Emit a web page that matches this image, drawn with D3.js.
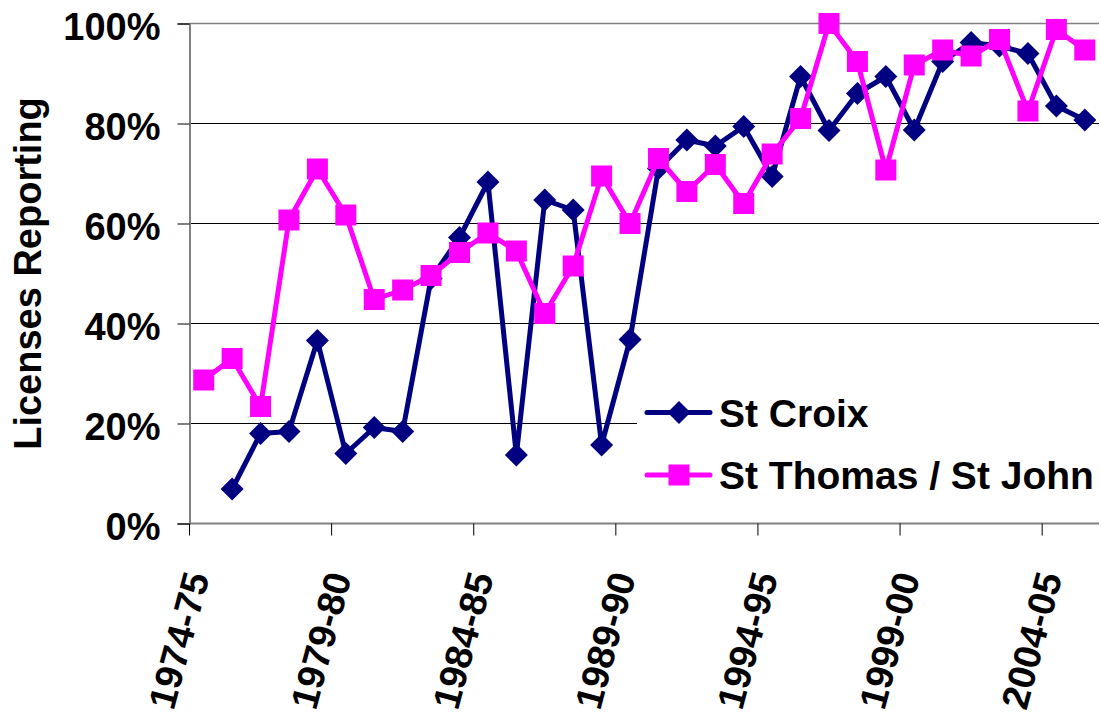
<!DOCTYPE html>
<html>
<head>
<meta charset="utf-8">
<script src="https://cdn.jsdelivr.net/npm/d3@7"></script>
<style>
  html, body { margin: 0; padding: 0; background: #fff; }
  svg { display: block; }
  text { font-family: "Liberation Sans", Arial, sans-serif; font-weight: bold; fill: #000; }
</style>
</head>
<body>
<svg id="chart" width="1101" height="715"></svg>
<script>
// ---- data ----
const categories = ["1974-75","1975-76","1976-77","1977-78","1978-79","1979-80","1980-81","1981-82",
  "1982-83","1983-84","1984-85","1985-86","1986-87","1987-88","1988-89","1989-90","1990-91","1991-92",
  "1992-93","1993-94","1994-95","1995-96","1996-97","1997-98","1998-99","1999-00","2000-01","2001-02",
  "2002-03","2003-04","2004-05","2005-06"];
const stCroix = [null, 6.9, 18.0, 18.4, 36.6, 14.0, 19.2, 18.4, 49.0, 57.2, 68.3, 13.7, 64.7, 62.7, 15.7, 36.8,
  71.0, 76.7, 75.5, 79.4, 69.4, 89.4, 78.6, 86.0, 89.4, 78.7, 92.4, 96.2, 95.5, 94.0, 83.5, 80.7];
const stThomas = [28.7, 33.0, 23.4, 60.7, 70.9, 61.7, 44.8, 46.7, 49.6, 54.2, 58.1, 54.5, 42.0, 51.5, 69.5, 60.0,
  73.0, 66.4, 71.8, 64.0, 73.9, 81.0, 100.0, 92.4, 70.7, 91.7, 94.7, 93.5, 96.8, 82.5, 98.8, 94.7];
const yTicks = [0, 20, 40, 60, 80, 100];
const xTickLabels = ["1974-75","1979-80","1984-85","1989-90","1994-95","1999-00","2004-05"];
const seriesNames = ["St Croix", "St Thomas / St John"];
const yTitle = "Licenses Reporting";

(function () {
// ---- layout ----
const svg = d3.select("#chart");
const pLeft = 189.5, pRight = 1099, pTop = 23.5, pBottom = 523.5;
const FS = 38;

const x = d3.scaleBand().domain(categories).range([pLeft, pRight]).paddingInner(0).paddingOuter(0);
const y = d3.scaleLinear().domain([0, 100]).range([pBottom, pTop]);
const cx = c => x(c) + x.bandwidth() / 2;

// gridlines
svg.append("g").selectAll("line").data(yTicks.filter(t => t > 0)).join("line")
  .attr("x1", pLeft).attr("x2", pRight)
  .attr("y1", d => y(d)).attr("y2", d => y(d))
  .attr("stroke", d => d === 100 ? "#808080" : "#000").attr("stroke-width", d => d === 100 ? 1.6 : 1);

// y axis
const yAxis = d3.axisLeft(y).tickValues(yTicks).tickFormat(d => d + "%").tickSize(12).tickPadding(18);
const gy = svg.append("g").attr("transform", `translate(${pLeft},0)`).call(yAxis);
gy.select(".domain").attr("stroke", "#808080").attr("stroke-width", 2);
gy.selectAll(".tick line").attr("stroke", "#000").attr("stroke-width", 1);
gy.attr("font-family", null).attr("font-size", null);
gy.selectAll(".tick text").attr("font-size", FS).attr("dy", "0.42em").attr("x", -29);

// x axis: ticks at every 5th category boundary
const boundaryVals = [0, 5, 10, 15, 20, 25, 30];
const xa = svg.append("g");
xa.append("line").attr("x1", pLeft).attr("x2", pRight).attr("y1", pBottom).attr("y2", pBottom)
  .attr("stroke", "#808080").attr("stroke-width", 2);
xa.selectAll("line.tk").data(boundaryVals).join("line").attr("class", "tk")
  .attr("x1", i => x(categories[i])).attr("x2", i => x(categories[i]))
  .attr("y1", pBottom).attr("y2", pBottom + 12).attr("stroke", "#000").attr("stroke-width", 1);
xa.selectAll("text").data(xTickLabels).join("text")
  .attr("font-size", FS)
  .attr("text-anchor", "end")
  .attr("transform", d => `translate(${cx(d) + 6},${pBottom + 53}) rotate(-75)`)
  .text(d => d);

// y title
svg.append("text").attr("font-size", FS).attr("text-anchor", "middle")
  .attr("transform", `translate(41,${(pTop + pBottom) / 2}) rotate(-90)`)
  .text(yTitle);

// series
const series = [
  { name: seriesNames[0], values: stCroix, color: "#000080", shape: "diamond" },
  { name: seriesNames[1], values: stThomas, color: "#FF00FF", shape: "square" }
];
const line = d3.line().defined(d => d.v != null).x(d => cx(d.c)).y(d => y(d.v));
const diamond = (s) => `M0,${-s}L${s},0L0,${s}L${-s},0Z`;

series.forEach(s => {
  const pts = categories.map((c, i) => ({ c, v: s.values[i] }));
  const g = svg.append("g");
  g.append("path").datum(pts).attr("d", line).attr("fill", "none")
    .attr("stroke", s.color).attr("stroke-width", 5).attr("stroke-linejoin", "round");
  const p = pts.filter(d => d.v != null);
  if (s.shape === "diamond") {
    g.selectAll("path.m").data(p).join("path").attr("class", "m")
      .attr("d", diamond(11.5)).attr("fill", s.color)
      .attr("transform", d => `translate(${cx(d.c)},${y(d.v)})`);
  } else {
    g.selectAll("rect.m").data(p).join("rect").attr("class", "m")
      .attr("x", d => cx(d.c) - 10.5).attr("y", d => y(d.v) - 10.5)
      .attr("width", 21).attr("height", 21).attr("fill", s.color);
  }
});

// legend
const lg = svg.append("g");
lg.append("rect").attr("x", 637).attr("y", 378).attr("width", 464).attr("height", 132).attr("fill", "#fff");
series.forEach((s, i) => {
  const ly = 412.5 + i * 62.5;
  lg.append("line").attr("x1", 647).attr("x2", 710).attr("y1", ly).attr("y2", ly)
    .attr("stroke", s.color).attr("stroke-width", 5).attr("stroke-linecap", "round");
  if (s.shape === "diamond") {
    lg.append("path").attr("d", diamond(11.5)).attr("fill", s.color).attr("transform", `translate(679,${ly})`);
  } else {
    lg.append("rect").attr("x", 679 - 10.5).attr("y", ly - 10.5).attr("width", 21).attr("height", 21).attr("fill", s.color);
  }
  lg.append("text").attr("x", 719).attr("y", ly + 14).attr("font-size", 39).text(s.name);
});
})();
</script>
</body>
</html>
